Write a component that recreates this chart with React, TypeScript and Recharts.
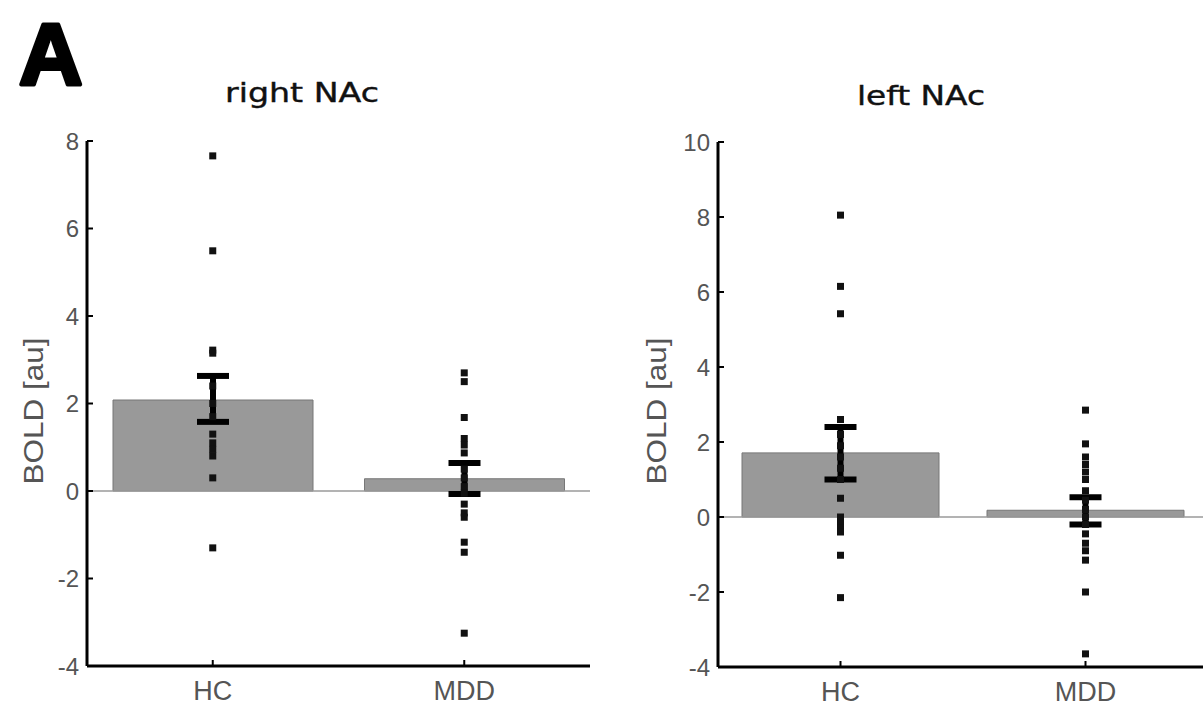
import { ComposedChart, Bar, Scatter, XAxis, YAxis, ErrorBar, ReferenceLine } from 'recharts';

const groups = ['HC', 'MDD'];

// right NAc: bar means, [minus, plus] error, single-subject values
const rightMeans = [2.08, 0.28];
const rightErr = [[0.5, 0.55], [0.35, 0.36]];
const rightHC = [7.66, 5.49, 3.22, 3.15, 2.4, 2.0, 1.7, 1.3, 1.1, 0.95, 0.8, 0.3, -1.3];
const rightMDD = [2.7, 2.5, 1.68, 1.2, 1.05, 0.87, 0.5, 0.3, 0.1, -0.05, -0.3, -0.5, -0.6, -1.17, -1.4, -3.25];
const rightTicks = [-4, -2, 0, 2, 4, 6, 8];

// left NAc
const leftMeans = [1.71, 0.18];
const leftErr = [[0.71, 0.69], [0.38, 0.35]];
const leftHC = [8.05, 6.15, 5.42, 2.6, 2.2, 1.9, 1.6, 1.3, 1.0, 0.5, 0.0, -0.15, -0.3, -0.4, -1.02, -2.15];
const leftMDD = [2.85, 1.95, 1.6, 1.4, 1.2, 1.0, 0.7, 0.45, 0.2, 0.0, -0.2, -0.45, -0.7, -0.9, -1.15, -2.0, -3.65];
const leftTicks = [-4, -2, 0, 2, 4, 6, 8, 10];

const FONT = '"Liberation Sans", Arial, sans-serif';

interface PanelProps {
  means: number[];
  errs: number[][];
  hc: number[];
  mdd: number[];
  ticks: number[];
  width: number;
  margin: { top: number; right: number; left: number; bottom: number };
  barSize: number;
  xHeight: number;
}

const Marker = (p: any) => (
  <rect x={p.cx - 3.5} y={p.cy - 3.5} width={7} height={7} fill="#111" />
);

function Panel({ means, errs, hc, mdd, ticks, width, margin, barSize, xHeight }: PanelProps) {
  const bars = groups.map((g, i) => ({ group: g, mean: means[i], err: errs[i] }));
  const points = [
    ...hc.map((v) => ({ group: 'HC', v })),
    ...mdd.map((v) => ({ group: 'MDD', v })),
  ];

  return (
    <ComposedChart width={width} height={709} data={bars} margin={margin}>
      <XAxis
        dataKey="group"
        type="category"
        allowDuplicatedCategory={false}
        height={xHeight}
        axisLine={{ stroke: '#000', strokeWidth: 3 }}
        tickLine={{ stroke: '#000', strokeWidth: 2 }}
        tickSize={-6}
        tickMargin={21}
        tick={{ fill: '#555', fontSize: 27, fontFamily: FONT }}
      />
      <YAxis
        type="number"
        domain={[ticks[0], ticks[ticks.length - 1]]}
        ticks={ticks}
        width={60}
        axisLine={{ stroke: '#000', strokeWidth: 3 }}
        tickLine={{ stroke: '#000', strokeWidth: 2 }}
        tickSize={-6}
        tickMargin={14}
        tick={{ fill: '#555', fontSize: 24, fontFamily: FONT }}
      />
      <ReferenceLine y={0} stroke="#9a9a9a" strokeWidth={1.5} />
      <Bar dataKey="mean" fill="#999999" stroke="#777777" strokeWidth={1} barSize={barSize} isAnimationActive={false}>
        <ErrorBar dataKey="err" direction="y" width={16} strokeWidth={6} stroke="#000" />
      </Bar>
      <Scatter data={points} dataKey="v" shape={Marker} isAnimationActive={false} />
    </ComposedChart>
  );
}

export default function App() {
  return (
    <div style={{ position: 'absolute', left: 0, top: 0, width: 1203, height: 709, overflow: 'hidden', background: '#fff' }}>
      <div style={{ position: 'absolute', left: 0, top: 0 }}>
        <Panel
          means={rightMeans}
          errs={rightErr}
          hc={rightHC}
          mdd={rightMDD}
          ticks={rightTicks}
          width={600}
          margin={{ top: 141, right: 10, left: 27, bottom: 0 }}
          barSize={200}
          xHeight={43}
        />
      </div>
      <div style={{ position: 'absolute', left: 600, top: 0 }}>
        <Panel
          means={leftMeans}
          errs={leftErr}
          hc={leftHC}
          mdd={leftMDD}
          ticks={leftTicks}
          width={610}
          margin={{ top: 142, right: 2, left: 58, bottom: 0 }}
          barSize={197}
          xHeight={42}
        />
      </div>
      <svg width={1203} height={709} style={{ position: 'absolute', left: 0, top: 0, pointerEvents: 'none' }}>
        <text x={19} y={84} fontSize={88} fontWeight="bold" fontFamily={FONT} fill="#000" stroke="#000" strokeWidth={4} strokeLinejoin="round">A</text>
        <text x={302} y={102} textAnchor="middle" fontSize={26} fontFamily='"DejaVu Sans", sans-serif' fill="#111" stroke="#111" strokeWidth={0.4} textLength={154} lengthAdjust="spacingAndGlyphs">right NAc</text>
        <text x={921} y={105} textAnchor="middle" fontSize={26} fontFamily='"DejaVu Sans", sans-serif' fill="#111" stroke="#111" strokeWidth={0.4} textLength={128} lengthAdjust="spacingAndGlyphs">left NAc</text>
        <text transform="translate(43, 411) rotate(-90)" textAnchor="middle" fontSize={28} fontFamily={FONT} fill="#555" textLength={147} lengthAdjust="spacingAndGlyphs">BOLD [au]</text>
        <text transform="translate(666, 411) rotate(-90)" textAnchor="middle" fontSize={28} fontFamily={FONT} fill="#555" textLength={147} lengthAdjust="spacingAndGlyphs">BOLD [au]</text>
      </svg>
    </div>
  );
}
